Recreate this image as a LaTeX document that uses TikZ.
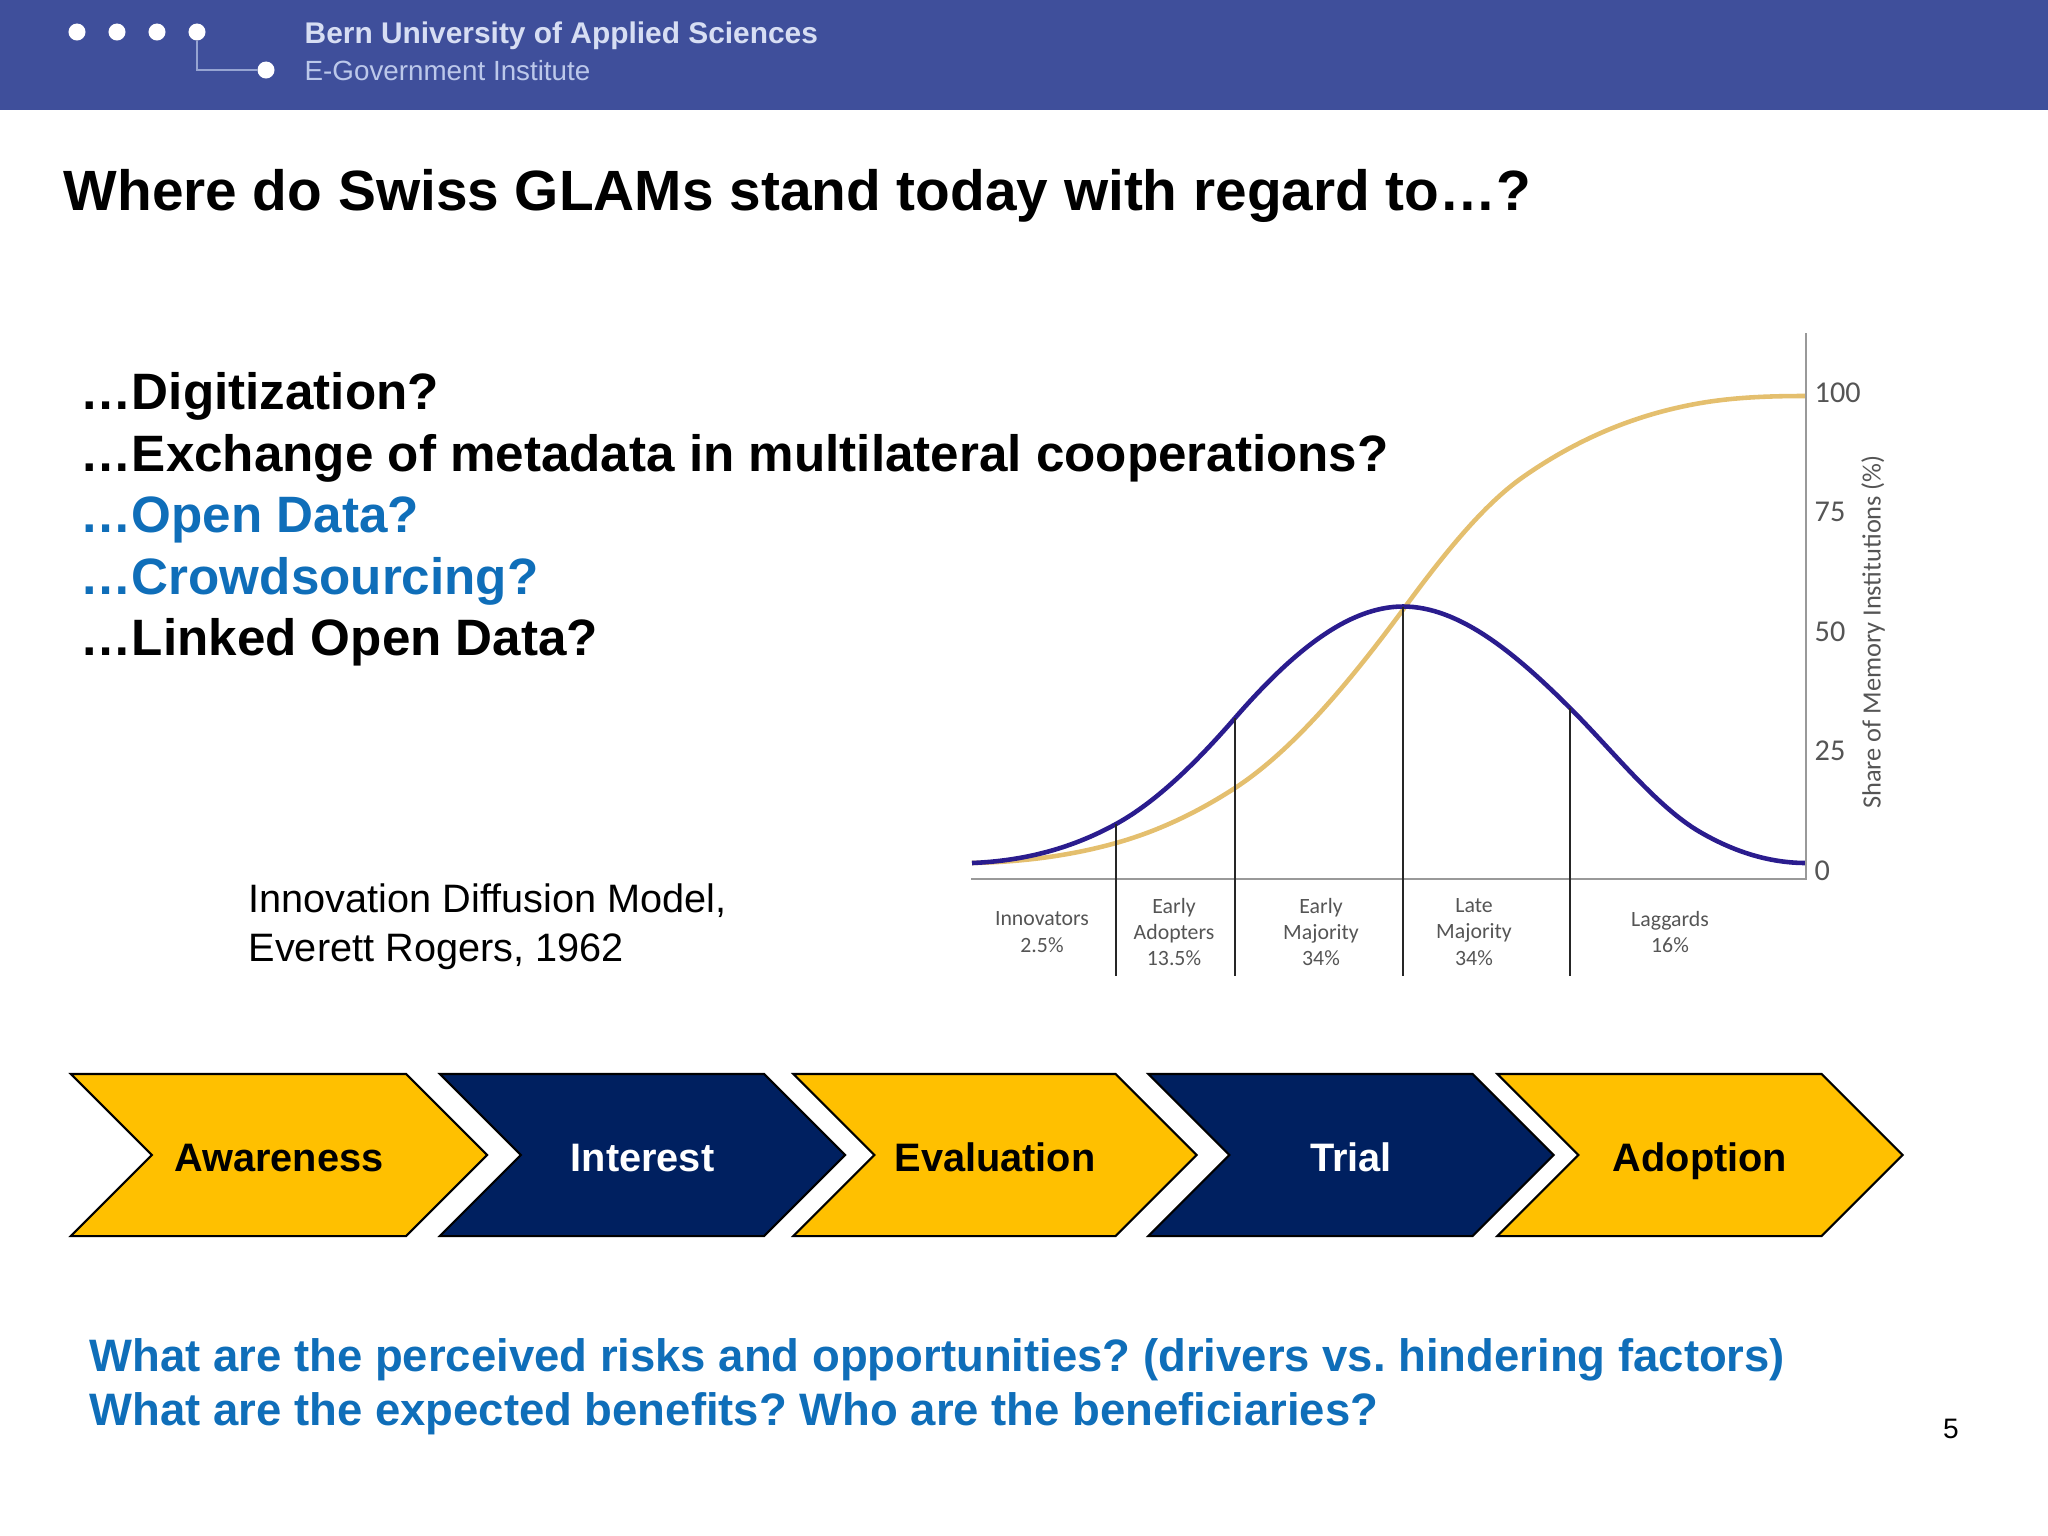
\documentclass[tikz,border=0pt]{standalone}
\usepackage{fontspec}
\setmainfont{Liberation Sans}
\newfontfamily\chartfont{Carlito}
\usetikzlibrary{positioning, shapes.symbols}
\definecolor{headerblue}{HTML}{3F4F9B}
\definecolor{headerlight}{HTML}{BCC8EA}
\definecolor{linkblue}{HTML}{0F6EB9}
\definecolor{stepgold}{HTML}{FFC000}
\definecolor{stepnavy}{HTML}{002060}
\definecolor{curvegold}{HTML}{E4BF6E}
\definecolor{curveblue}{HTML}{2A1C8E}
\definecolor{chartgray}{HTML}{555555}
\frenchspacing

\begin{document}
\begin{tikzpicture}[
    x=0.01cm, y=-0.01cm,
    logodot/.style={circle, fill=white, inner sep=0pt, minimum size=0.17cm},
    heading/.style={anchor=base west, inner sep=0pt, font=\fontsize{16.15}{19}\selectfont\bfseries},
    item/.style={anchor=base west, inner sep=0pt, font=\fontsize{14.55}{18}\selectfont\bfseries},
    question/.style={anchor=base west, inner sep=0pt, text=linkblue, font=\fontsize{12.93}{16}\selectfont\bfseries},
    caption/.style={anchor=base west, inner sep=0pt, font=\fontsize{11.28}{14}\selectfont},
    chevron/.style={signal, signal from=west, signal to=east, signal pointer angle=90, draw=black, line width=0.6pt,
        inner sep=0pt, minimum height=1.62cm, text height=0.32cm, text depth=0pt, font=\fontsize{11.3}{14}\selectfont\bfseries},
    goldstep/.style={chevron, fill=stepgold, text=black},
    navystep/.style={chevron, fill=stepnavy, text=white},
    phase/.style={align=center, inner sep=0pt, text=chartgray, font=\chartfont\fontsize{6.2}{7.5}\selectfont},
    tick/.style={anchor=west, inner sep=0pt, text=chartgray, font=\chartfont\fontsize{8.6}{10}\selectfont},
    divider/.style={black!85, line width=0.7pt},
    axis/.style={gray!80, line width=0.7pt},
    curve/.style={line width=1.3pt}
]
\useasboundingbox (0,0) rectangle (2048,1536);

% Header band
\fill[headerblue] (0,0) rectangle (2048,110);
\node[logodot] (doa) at (77,32) {};
\node[logodot] (dob) at (117,32) {};
\node[logodot] (doc) at (157,32) {};
\node[logodot] (dod) at (197,32) {};
\node[logodot] (doe) at (266,70) {};
\draw[headerlight!70!headerblue, line width=0.3pt] (dod) |- (doe);
\node[anchor=base west, inner sep=0pt, text=headerlight!60!white, font=\fontsize{8.5}{10}\selectfont\bfseries] (school) at (304,43) {Bern University of Applied Sciences};
\node[anchor=base west, inner sep=0pt, text=headerlight, font=\fontsize{7.9}{10}\selectfont] (institute) at (304,80) {E-Government Institute};

% Title
\node[heading] (title) at (63,210) {Where do Swiss GLAMs stand today with regard to…?};

% Topic list
\node[item] (digit) at (80,409) {…Digitization?};
\node[item] (meta) at (80,471) {…Exchange of metadata in multilateral cooperations?};
\node[item, text=linkblue] (open) at (80,532) {…Open Data?};
\node[item, text=linkblue] (crowd) at (80,594) {…Crowdsourcing?};
\node[item] (linked) at (80,655) {…Linked Open Data?};

% Model credit
\node[caption] (model) at (248,912) {Innovation Diffusion Model,};
\node[caption] (rogers) at (248,961) {Everett Rogers, 1962};

% Chart curves
\draw[curve, curvegold] (972,863) .. controls (1020,862) and (1068,856.4) .. (1116,843)
    .. controls (1155.7,831.9) and (1195.3,813.8) .. (1235,788)
    .. controls (1291.7,751.1) and (1348.3,684.1) .. (1405,607)
    .. controls (1444.3,553.5) and (1483.7,504.5) .. (1523,477)
    .. controls (1578.7,438) and (1634.3,416) .. (1690,405)
    .. controls (1728.7,397.3) and (1767.3,396) .. (1806,396);
\draw[curve, curveblue] (972,863) .. controls (1020,861) and (1068,850.4) .. (1116,824)
    .. controls (1155.7,802.2) and (1195.3,763.7) .. (1235,718)
    .. controls (1291,653.6) and (1347,606.5) .. (1403,606.5)
    .. controls (1458.7,606.5) and (1514.3,652.3) .. (1570,708)
    .. controls (1613.3,751.3) and (1656.7,806.9) .. (1700,832)
    .. controls (1735.3,852.5) and (1770.7,863) .. (1806,863);

% Chart axes
\coordinate (origin) at (1806,879);
\coordinate (axistop) at (1806,333);
\coordinate (axisleft) at (971,879);
\draw[axis] (axisleft) -- (origin) -- (axistop);

% Phase dividers
\coordinate (diva) at (1116,824);
\coordinate (divb) at (1235,718);
\coordinate (divc) at (1403,607);
\coordinate (divd) at (1570,708);
\coordinate (diva end) at (1116,976);
\coordinate (divb end) at (1235,976);
\coordinate (divc end) at (1403,976);
\coordinate (divd end) at (1570,976);
\draw[divider] (diva) -- (diva end);
\draw[divider] (divb) -- (divb end);
\draw[divider] (divc) -- (divc end);
\draw[divider] (divd) -- (divd end);

% Phase labels
\node[phase] (innovators) at (1042,932) {Innovators\\2.5\%};
\node[phase] (adopters) at (1174,932) {Early\\Adopters\\13.5\%};
\node[phase] (earlymaj) at (1321,932) {Early\\Majority\\34\%};
\node[phase] (latemaj) at (1474,932) {Late\\Majority\\34\%};
\node[phase] (laggards) at (1670,932) {Laggards\\16\%};

% Axis ticks
\node[tick] (tick100) at (1814,393) {100};
\node[tick] (tick75) at (1814,512) {75};
\node[tick] (tick50) at (1814,632) {50};
\node[tick] (tick25) at (1814,751) {25};
\node[tick] (tick0) at (1814,871) {0};
\node[rotate=90, inner sep=0pt, text=chartgray, font=\chartfont\fontsize{7.5}{9}\selectfont] (share) at (1873,632) {Share of Memory Institutions (\%)};

% Process chevrons
\node[goldstep, minimum width=4.16cm] (aware) at (279,1155) {Awareness};
\node[navystep, minimum width=4.05cm] (interest) at (642.5,1155) {Interest};
\node[goldstep, minimum width=4.03cm] (eval) at (995,1155) {Evaluation};
\node[navystep, minimum width=4.05cm] (trial) at (1351,1155) {Trial};
\node[goldstep, minimum width=4.05cm] (adopt) at (1700,1155) {Adoption};

% Closing questions
\node[question] (risks) at (89,1371) {What are the perceived risks and opportunities? (drivers vs. hindering factors)};
\node[question] (benefits) at (89,1425) {What are the expected benefits? Who are the beneficiaries?};

% Page number
\node[anchor=base, inner sep=0pt, font=\fontsize{8}{10}\selectfont] (page) at (1951,1438) {5};
\end{tikzpicture}
\end{document}
